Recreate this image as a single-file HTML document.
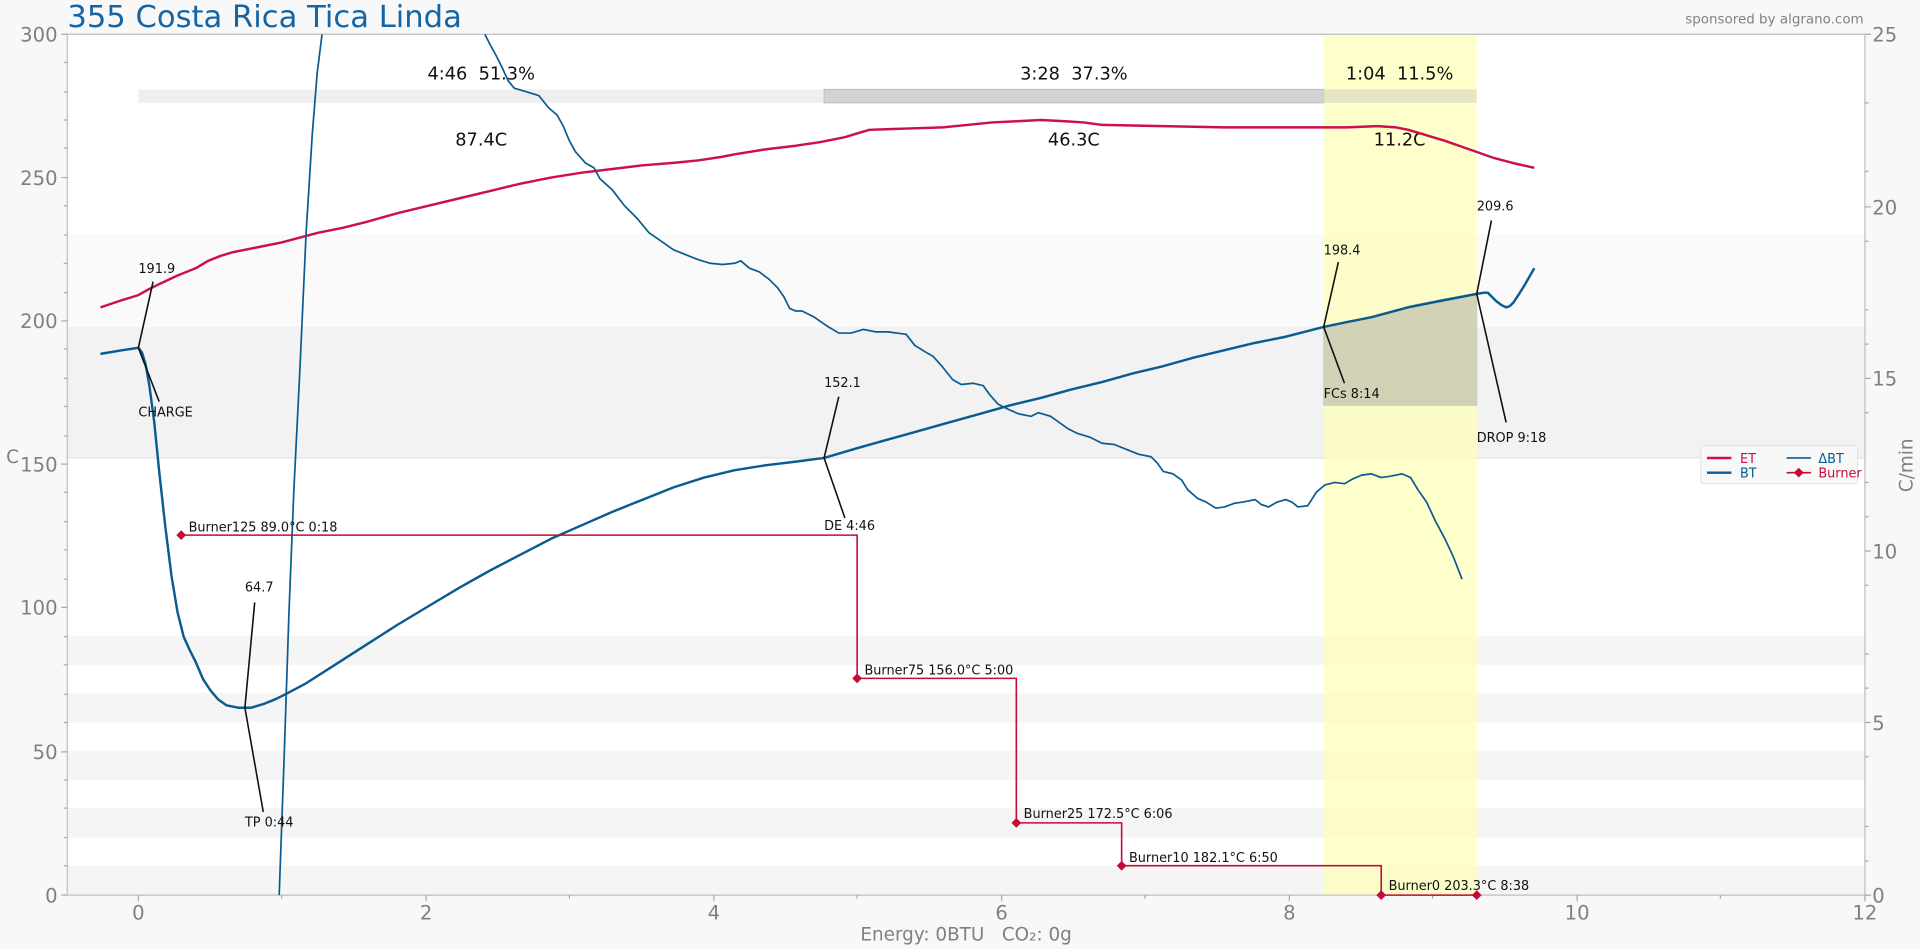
<!DOCTYPE html>
<html><head><meta charset="utf-8"><style>
html,body{margin:0;padding:0;background:#f8f8f8;}
svg{display:block;font-family:"DejaVu Sans","Liberation Sans",sans-serif;}
svg text{white-space:pre;}
</style></head><body>
<svg width="1920" height="949" viewBox="0 0 1568 775" xmlns="http://www.w3.org/2000/svg" xml:space="preserve">
<rect x="0" y="0" width="1568" height="775" fill="#f8f8f8"/>
<rect x="55" y="28" width="1468" height="703" fill="#ffffff"/>
<g fill="#f5f5f5">
<rect x="55" y="707" width="1468" height="24"/>
<rect x="55" y="660" width="1468" height="24"/>
<rect x="55" y="613" width="1468" height="24"/>
<rect x="55" y="566" width="1468" height="24"/>
<rect x="55" y="519" width="1468" height="24"/>
</g>
<rect x="55" y="191" width="1468" height="76" fill="#fafafa"/>
<rect x="55" y="267" width="1468" height="107" fill="#f2f2f2"/>
<line x1="55" y1="374" x2="1523" y2="374" stroke="#e4e4e4" stroke-width="1"/>
<rect x="1081" y="28" width="125" height="703" fill="#ffffb0" opacity="0.65"/>
<rect x="113" y="73" width="560" height="11" fill="#efefef"/>
<rect x="673" y="73" width="408" height="11" fill="#d3d3d3" stroke="#bdbdbd" stroke-width="0.8"/>
<rect x="1081" y="73" width="125" height="11" fill="#e6e6c4"/>
<g font-size="14.5" fill="#111" text-anchor="middle">
<text x="393" y="65">4:46  51.3%</text>
<text x="877" y="65">3:28  37.3%</text>
<text x="1143" y="65">1:04  11.5%</text>
<text x="393" y="119">87.4C</text>
<text x="877" y="119">46.3C</text>
<text x="1143" y="119">11.2C</text>
</g>
<polygon points="1081,331 1081,267 1100,263 1120,259 1150,250 1180,244 1206,240 1206,331" fill="#a0a0a0" opacity="0.45" stroke="#999" stroke-width="0.8"/>
<line x1="55" y1="28" x2="55" y2="731" stroke="#c8c8c8" stroke-width="1.2"/>
<line x1="1523" y1="28" x2="1523" y2="731" stroke="#c8c8c8" stroke-width="1.2"/>
<line x1="55" y1="731" x2="1523" y2="731" stroke="#c8c8c8" stroke-width="1.2"/>
<line x1="55" y1="28" x2="1523" y2="28" stroke="#c8c8c8" stroke-width="1.2"/>
<g stroke="#aaa" stroke-width="1">
<path d="M50,28h5M50,145h5M50,262h5M50,379h5M50,496h5M50,614h5M50,731h5"/>
<path d="M52,51h3M52,75h3M52,98h3M52,121h3M52,168h3M52,192h3M52,215h3M52,239h3M52,285h3M52,309h3M52,332h3M52,356h3M52,402h3M52,426h3M52,449h3M52,473h3M52,520h3M52,543h3M52,567h3M52,590h3M52,637h3M52,660h3M52,684h3M52,707h3"/>
<path d="M1523,28h5M1523,169h5M1523,309h5M1523,450h5M1523,590h5M1523,731h5"/>
<path d="M1523,84h3M1523,140h3M1523,197h3M1523,253h3M1523,281h3M1523,337h3M1523,394h3M1523,422h3M1523,478h3M1523,534h3M1523,562h3M1523,618h3M1523,675h3M1523,703h3"/>
<path d="M113,731v5M348,731v5M583,731v5M818,731v5M1053,731v5M1288,731v5M1523,731v5"/>
<path d="M230,731v3M465,731v3M700,731v3M935,731v3M1170,731v3M1405,731v3"/>
</g>
<g font-size="16" fill="#808080" text-anchor="end">
<text x="47" y="34">300</text><text x="47" y="151">250</text><text x="47" y="268">200</text>
<text x="47" y="385">150</text><text x="47" y="502">100</text><text x="47" y="620">50</text><text x="47" y="737">0</text>
</g>
<g font-size="16" fill="#808080" text-anchor="start">
<text x="1529" y="34">25</text><text x="1529" y="175">20</text><text x="1529" y="315">15</text>
<text x="1529" y="456">10</text><text x="1529" y="596">5</text><text x="1529" y="737">0</text>
</g>
<g font-size="16" fill="#808080" text-anchor="middle">
<text x="113" y="751">0</text><text x="348" y="751">2</text><text x="583" y="751">4</text><text x="818" y="751">6</text>
<text x="1053" y="751">8</text><text x="1288" y="751">10</text><text x="1523" y="751">12</text>
</g>
<text x="5" y="378" font-size="15" fill="#808080">C</text>
<text transform="translate(1562,380) rotate(-90)" font-size="15" fill="#808080" text-anchor="middle">C/min</text>
<text x="789" y="768" font-size="15" fill="#808080" text-anchor="middle">Energy: 0BTU   CO₂: 0g</text>
<text x="1522" y="19" font-size="11" fill="#808080" text-anchor="end">sponsored by algrano.com</text>
<text x="55" y="22" font-size="25" fill="#1565a5">355 Costa Rica Tica Linda</text>
<polyline fill="none" stroke="#cc0f50" stroke-width="2" stroke-linejoin="round" points="82,251 100,245 113,241 122,236 130,232 145,225 160,219 170,213 180,209 190,206 200,204 215,201 230,198 245,194 260,190 280,186 300,181 325,174 350,168 375,162 400,156 425,150 450,145 475,141 500,138 525,135 550,133 570,131 590,128 600,126 625,122 650,119 670,116 690,112 700,109 710,106 740,105 770,104 790,102 810,100 830,99 850,98 870,99 885,100 900,102 950,103 1000,104 1050,104 1100,104 1125,103 1140,104 1150,106 1160,109 1180,115 1200,122 1220,129 1235,133 1253,137"/>
<polyline fill="none" stroke="#0a5c90" stroke-width="2" stroke-linejoin="round" points="82,289 100,286 113,284 116,288 119,298 122,315 126,345 130,385 135,430 140,470 145,500 150,520 155,531 160,541 166,555 172,564 178,571 185,576 195,578 205,578 215,575 225,571 235,566 250,558 275,542 300,526 325,510 350,495 375,480 400,466 425,453 450,440 475,429 500,418 525,408 550,398 575,390 600,384 625,380 650,377 673,374 700,366 725,359 750,352 775,345 800,338 825,331 850,325 875,318 900,312 925,305 950,299 975,292 1000,286 1025,280 1050,275 1081,267 1100,263 1120,259 1150,251 1180,245 1206,240 1212,239 1215,239 1218,242 1222,246 1226,249 1230,251 1233,250 1236,247 1240,241 1245,233 1253,219"/>
<polyline fill="none" stroke="#0a5c90" stroke-width="1.4" points="228,731 232,620 236,500 240,400 245,300 250,190 255,110 259,60 263,28"/>
<polyline fill="none" stroke="#0a5c90" stroke-width="1.4" stroke-linejoin="round" points="396,28 400,36 405,45 410,55 415,66 420,72 430,75 440,78 448,88 455,94 460,103 465,115 470,124 478,133 485,137 490,146 500,155 510,168 520,178 530,190 540,197 550,204 560,208 570,212 580,215 590,216 600,215 605,213 612,219 620,222 628,228 635,235 640,242 645,252 650,254 655,254 665,259 675,266 685,272 695,272 705,269 715,271 725,271 740,273 747,282 755,287 762,291 770,300 778,310 785,314 795,313 803,315 808,322 815,330 825,335 832,338 842,340 848,337 858,340 865,345 872,350 880,354 890,357 900,362 910,363 920,367 930,371 940,373 945,378 950,385 958,387 965,392 970,400 978,407 985,410 993,415 1000,414 1008,411 1015,410 1025,408 1030,412 1036,414 1043,410 1050,408 1055,410 1060,414 1068,413 1075,402 1082,396 1090,394 1098,395 1105,391 1112,388 1120,387 1128,390 1135,389 1145,387 1152,390 1158,400 1165,410 1172,425 1180,440 1187,455 1194,473"/>
<polyline fill="none" stroke="#c40b36" stroke-width="1.3" points="148,437 700,437 700,554 830,554 830,672 916,672 916,707 1128,707 1128,731 1206,731"/>
<g fill="#c40b36">
<path d="M148,433l4,4l-4,4l-4,-4z"/><path d="M700,550l4,4l-4,4l-4,-4z"/><path d="M830,668l4,4l-4,4l-4,-4z"/>
<path d="M916,703l4,4l-4,4l-4,-4z"/><path d="M1128,727l4,4l-4,4l-4,-4z"/><path d="M1206,727l4,4l-4,4l-4,-4z"/>
</g>
<g font-size="10.5" fill="#111">
<text x="154" y="434">Burner125 89.0°C 0:18</text>
<text x="706" y="551">Burner75 156.0°C 5:00</text>
<text x="836" y="668">Burner25 172.5°C 6:06</text>
<text x="922" y="704">Burner10 182.1°C 6:50</text>
<text x="1134" y="727">Burner0 203.3°C 8:38</text>
</g>
<g stroke="#111" stroke-width="1.3" fill="none">
<polyline points="125,230 113,284 130,328"/>
<polyline points="208,492 200,578 215,663"/>
<polyline points="685,324 673,374 690,423"/>
<polyline points="1093,214 1081,267 1098,313"/>
<polyline points="1218,180 1206,240 1230,345"/>
</g>
<g font-size="10.5" fill="#111">
<text x="113" y="223">191.9</text><text x="113" y="340">CHARGE</text>
<text x="200" y="483">64.7</text><text x="200" y="675">TP 0:44</text>
<text x="673" y="316">152.1</text><text x="673" y="433">DE 4:46</text>
<text x="1081" y="208">198.4</text><text x="1081" y="325">FCs 8:14</text>
<text x="1206" y="172">209.6</text><text x="1206" y="361">DROP 9:18</text>
</g>
<rect x="1389" y="364" width="128" height="31" fill="#f8f8f8" stroke="#e0e0e0" stroke-width="0.8" rx="2"/>
<line x1="1394" y1="374" x2="1414" y2="374" stroke="#cc0f50" stroke-width="2"/>
<text x="1421" y="378" font-size="10.5" fill="#cc0f50">ET</text>
<line x1="1394" y1="386" x2="1414" y2="386" stroke="#0a5c90" stroke-width="2"/>
<text x="1421" y="390" font-size="10.5" fill="#0a5c90">BT</text>
<line x1="1459" y1="374" x2="1479" y2="374" stroke="#0a5c90" stroke-width="1.3"/>
<text x="1485" y="378" font-size="10.5" fill="#0a5c90">ΔBT</text>
<line x1="1459" y1="386" x2="1479" y2="386" stroke="#c40b36" stroke-width="1.3"/>
<path d="M1469,382l4,4l-4,4l-4,-4z" fill="#c40b36"/>
<text x="1485" y="390" font-size="10.5" fill="#c40b36">Burner</text>
</svg>
</body></html>
